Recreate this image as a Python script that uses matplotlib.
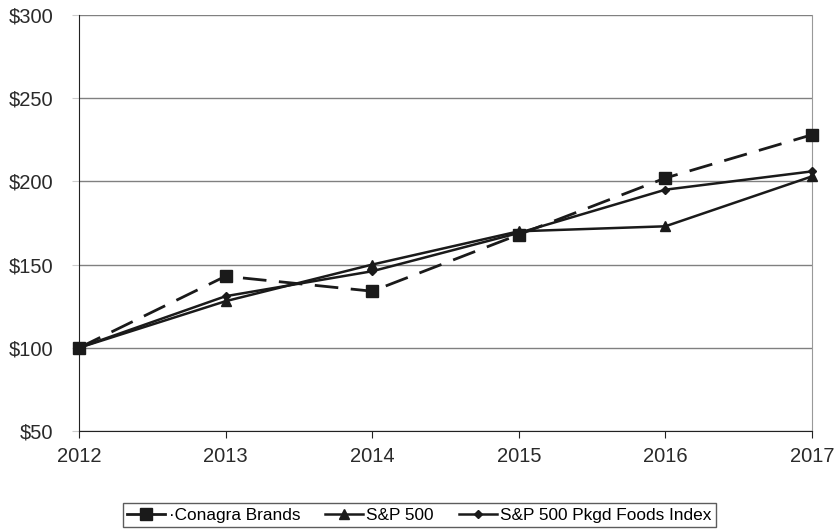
import matplotlib
matplotlib.use("Agg")
import matplotlib.pyplot as plt
from matplotlib.ticker import FuncFormatter

plt.rcParams['font.family'] = ['Liberation Sans', 'DejaVu Sans']

years = [2012, 2013, 2014, 2015, 2016, 2017]
conagra = [100, 143, 134, 168, 202, 228]
sp500 = [100, 128, 150, 170, 173, 203]
pkgd_foods = [100, 131, 146, 169, 195, 206]

fig = plt.figure(figsize=(8.37, 5.30), dpi=100)
ax = fig.add_axes([0.0944, 0.1868, 0.8757, 0.785])

ax.plot(years, conagra, color='#1a1a1a', lw=2.0, ls=(0, (8.5, 4.5)), marker='s', ms=8,
        label='\u00b7Conagra Brands', zorder=3, clip_on=False)
ax.plot(years, sp500, color='#1a1a1a', lw=1.8, marker='^', ms=7,
        label='S&P 500', zorder=3, clip_on=False)
ax.plot(years, pkgd_foods, color='#1a1a1a', lw=1.8, marker='D', ms=4.5,
        label='S&P 500 Pkgd Foods Index', zorder=3, clip_on=False)

ax.set_xlim(2012, 2017)
ax.set_ylim(50, 300)
ax.set_xticks(years)
ax.set_yticks([50, 100, 150, 200, 250, 300])
ax.yaxis.set_major_formatter(FuncFormatter(lambda v, p: f'${v:.0f}'))
ax.grid(axis='y', color='#808080', lw=1.0)
ax.set_axisbelow(True)
ax.spines['top'].set_visible(False)
ax.spines['right'].set_color('#999999')
ax.spines['left'].set_color('#222222')
ax.spines['bottom'].set_color('#222222')
ax.tick_params(axis='both', labelsize=14.5, labelcolor='#2a2a2a')
ax.tick_params(axis='x', length=5, pad=6.5, color='#222222')
ax.tick_params(axis='y', length=5, pad=13.5, color='#cccccc')
for lab in ax.get_xticklabels():
    lab.set_clip_on(False)

leg = fig.legend(loc='lower center', bbox_to_anchor=(0.501, 0.0057), ncol=3, fontsize=12.4,
                 frameon=True, fancybox=False, edgecolor='#333333', handlelength=2.2,
                 columnspacing=1.45, handletextpad=0.2, borderpad=0.25, borderaxespad=0.0)
leg.get_frame().set_linewidth(1.0)
leg.get_lines()[0].set_linestyle('-')

fig.savefig('out.png', dpi=100)
